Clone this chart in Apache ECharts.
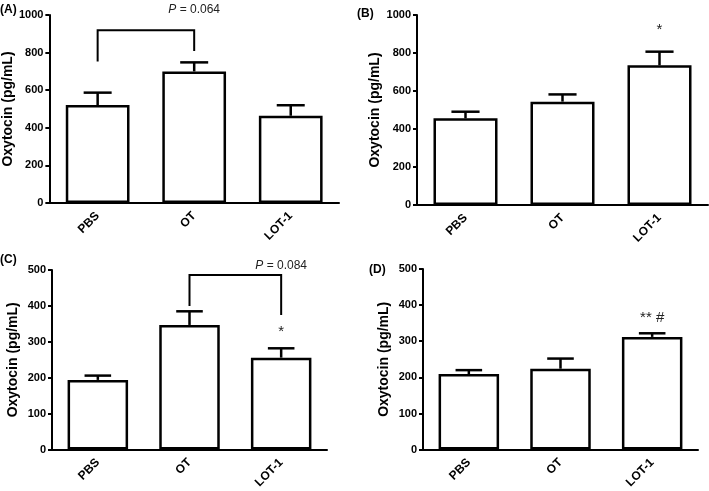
<!DOCTYPE html>
<html>
<head>
<meta charset="utf-8">
<script src="https://cdn.jsdelivr.net/npm/echarts@6/dist/echarts.min.js"></script>
<style>
  html, body { margin: 0; padding: 0; background: #fff; }
  #chart { width: 709px; height: 491px; }
</style>
</head>
<body>
<div id="chart"></div>
<script>
const categories = ["PBS", "OT", "LOT-1"];

// mean and SEM per panel
const meanA = [521, 700, 464];
const semA = [66, 48, 56];
const meanB = [456, 544, 735];
const semB = [35, 38, 72];
const meanC = [194, 347, 256];
const semC = [12, 38, 26];
const meanD = [209, 224, 312];
const semD = [11, 28, 10];

// y axis scales
const yMaxTop = 1000, yStepTop = 200;
const yMaxBottom = 500, yStepBottom = 100;

// brackets: [from, to, leftEnd, top, rightEnd]
const bracketA = [0, 1, 752, 919, 809];
const bracketC = [1, 2, 400, 486, 375];
const pLabelA = ["0.064", 1027];
const pLabelC = ["0.084", 512];

// significance marks: [category, value, text]
const marksB = [[2, 920, "*"]];
const marksC = [[2, 329, "*"]];
const marksD = [[2, 366, "** #"]];

const FONT = "Liberation Sans, Arial, sans-serif";

const grids = [
  { left: 49, top: 15, width: 290, height: 188 },
  { left: 417, top: 15, width: 291, height: 190 },
  { left: 52, top: 270, width: 275, height: 180 },
  { left: 423, top: 269, width: 275, height: 182 },
];

function errorBars(params, api) {
  const x = api.value(0);
  const m = api.value(1);
  const s = api.value(2);
  const p0 = api.coord([x, m]);
  const p1 = api.coord([x, m + s]);
  const half = api.size([1, 0])[0] * 0.145;
  const st = { stroke: "#000", lineWidth: 2.5 };
  return {
    type: "group",
    children: [
      { type: "line", shape: { x1: p0[0], y1: p0[1], x2: p1[0], y2: p1[1] }, style: st },
      { type: "line", shape: { x1: p1[0] - half, y1: p1[1], x2: p1[0] + half, y2: p1[1] }, style: st },
    ],
  };
}

function bracket(params, api) {
  const a = api.coord([api.value(0), api.value(2)]);
  const b = api.coord([api.value(0), api.value(3)]);
  const c = api.coord([api.value(1), api.value(3)]);
  const d = api.coord([api.value(1), api.value(4)]);
  return {
    type: "polyline",
    shape: { points: [a, b, c, d] },
    style: { stroke: "#000", lineWidth: 2, fill: null },
  };
}

function markText(params, api) {
  const p = api.coord([api.value(0), api.value(1)]);
  return {
    type: "text",
    x: p[0],
    y: p[1],
    style: {
      text: api.value(2),
      fontFamily: FONT,
      fontSize: 15,
      fill: "#222",
      align: "center",
      verticalAlign: "middle",
    },
  };
}

function pText(params, api) {
  const p = api.coord([api.value(0), api.value(1)]);
  return {
    type: "text",
    x: p[0],
    y: p[1],
    style: {
      text: "{i|P} = " + api.value(2),
      rich: { i: { fontStyle: "italic", fontFamily: FONT, fontSize: 12, fill: "#222" } },
      fontFamily: FONT,
      fontSize: 12,
      fill: "#222",
      align: "center",
      verticalAlign: "middle",
    },
  };
}

const xAxis = [];
const yAxis = [];
const series = [];

function addPanel(i, mean, sem, yMax, yStep) {
  xAxis.push({
    type: "category",
    gridIndex: i,
    data: categories,
    axisLine: { lineStyle: { color: "#000", width: 2 } },
    axisTick: { show: false },
    axisLabel: {
      rotate: 45,
      margin: 11,
      color: "#000",
      fontWeight: "bold",
      fontSize: 12,
      fontFamily: FONT,
    },
  });
  yAxis.push({
    type: "value",
    gridIndex: i,
    min: 0,
    max: yMax,
    interval: yStep,
    name: "Oxytocin (pg/mL)",
    nameLocation: "middle",
    nameGap: 32,
    nameTextStyle: { color: "#000", fontWeight: "bold", fontSize: 14, fontFamily: FONT },
    axisLine: { show: true, lineStyle: { color: "#000", width: 2 } },
    axisTick: { show: true, length: 4, lineStyle: { color: "#000", width: 2 } },
    splitLine: { show: false },
    axisLabel: {
      color: "#000",
      fontWeight: "bold",
      fontSize: 11,
      margin: 6,
      fontFamily: FONT,
      formatter: (v) => String(v),
    },
  });
  series.push({
    type: "bar",
    xAxisIndex: i,
    yAxisIndex: i,
    data: mean,
    barWidth: "66%",
    itemStyle: { color: "#fff", borderColor: "#000", borderWidth: 2.5 },
    silent: true,
  });
  series.push({
    type: "custom",
    xAxisIndex: i,
    yAxisIndex: i,
    renderItem: errorBars,
    data: mean.map((m, k) => [k, m, sem[k]]),
    z: 3,
    silent: true,
  });
}

addPanel(0, meanA, semA, yMaxTop, yStepTop);
addPanel(1, meanB, semB, yMaxTop, yStepTop);
addPanel(2, meanC, semC, yMaxBottom, yStepBottom);
addPanel(3, meanD, semD, yMaxBottom, yStepBottom);

series.push(
  { type: "custom", xAxisIndex: 0, yAxisIndex: 0, renderItem: bracket, data: [bracketA], clip: false, silent: true },
  { type: "custom", xAxisIndex: 2, yAxisIndex: 2, renderItem: bracket, data: [bracketC], clip: false, silent: true },
  {
    type: "custom", xAxisIndex: 0, yAxisIndex: 0, renderItem: pText, clip: false, silent: true,
    data: [[(bracketA[0] + bracketA[1]) / 2, pLabelA[1], pLabelA[0]]],
  },
  {
    type: "custom", xAxisIndex: 2, yAxisIndex: 2, renderItem: pText, clip: false, silent: true,
    data: [[(bracketC[0] + bracketC[1]) / 2, pLabelC[1], pLabelC[0]]],
  },
  { type: "custom", xAxisIndex: 1, yAxisIndex: 1, renderItem: markText, data: marksB, clip: false, silent: true },
  { type: "custom", xAxisIndex: 2, yAxisIndex: 2, renderItem: markText, data: marksC, clip: false, silent: true },
  { type: "custom", xAxisIndex: 3, yAxisIndex: 3, renderItem: markText, data: marksD, clip: false, silent: true }
);

const panelLabels = [
  ["(A)", 0, 4],
  ["(B)", 357, 8],
  ["(C)", 0, 254],
  ["(D)", 369, 264],
];

const chart = echarts.init(document.getElementById("chart"), null, { renderer: "canvas" });
chart.setOption({
  animation: false,
  backgroundColor: "#fff",
  grid: grids,
  xAxis: xAxis,
  yAxis: yAxis,
  series: series,
  graphic: panelLabels.map(([t, x, y]) => ({
    type: "text",
    left: x,
    top: y,
    style: { text: t, fontFamily: FONT, fontWeight: "bold", fontSize: 12, fill: "#000" },
  })),
});
</script>
</body>
</html>
